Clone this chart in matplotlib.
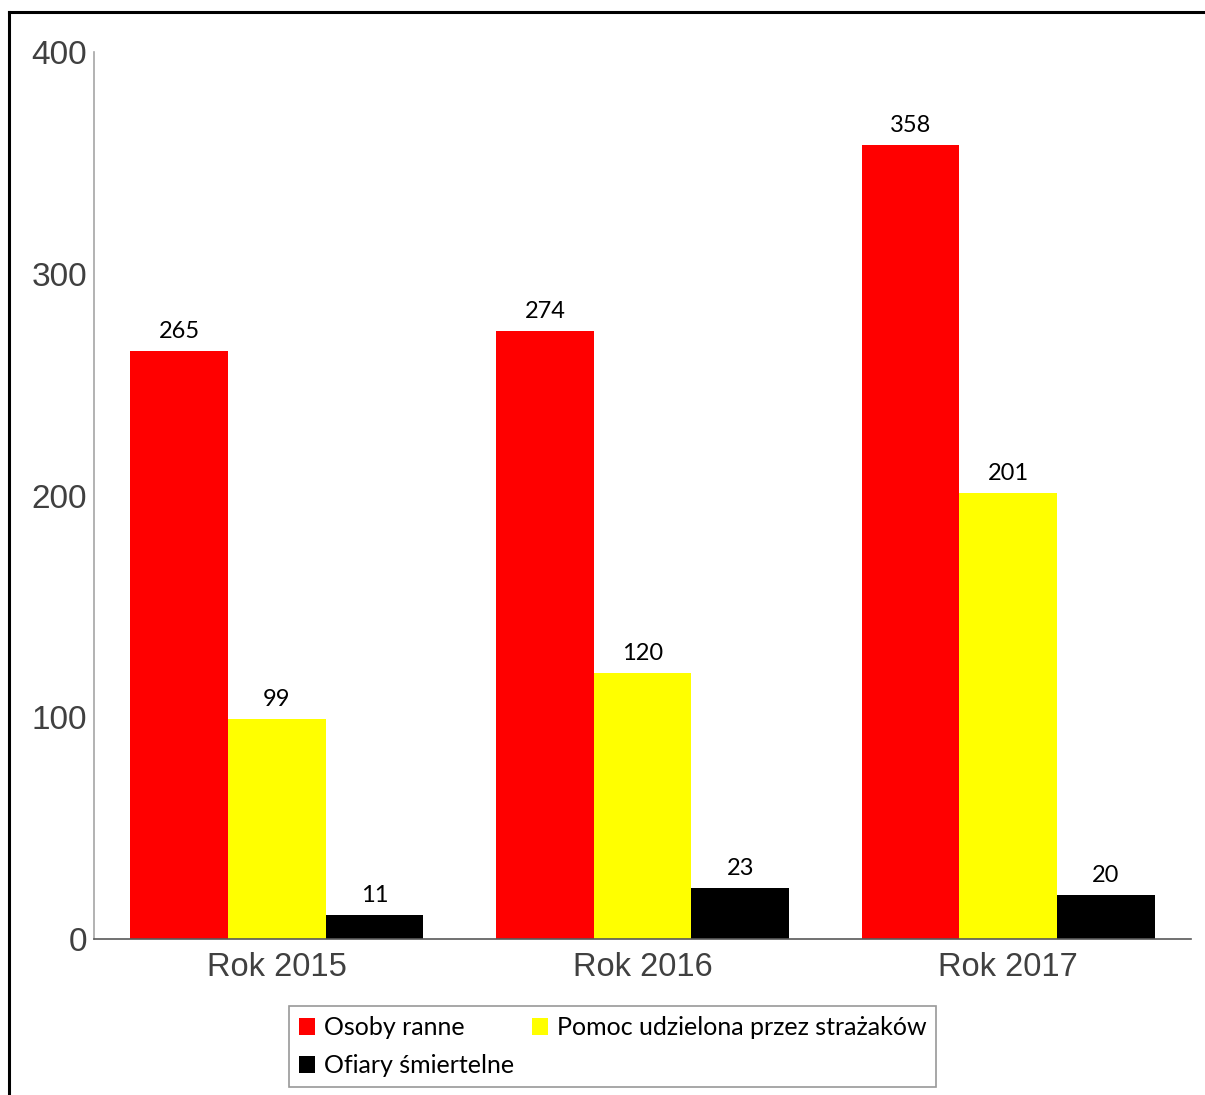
import matplotlib
import matplotlib.pyplot as plt
import numpy as np
from matplotlib.lines import Line2D

matplotlib.use('Agg')

# Data
years = ['Rok 2015', 'Rok 2016', 'Rok 2017']
ranni = [265, 274, 358]
pomoc = [99, 120, 201]
ofiary = [11, 23, 20]
series_names = ['Osoby ranne', 'Pomoc udzielona przez strażaków', 'Ofiary śmiertelne']
colors = ['#ff0000', '#ffff00', '#000000']

fig = plt.figure(figsize=(12.05, 10.95), dpi=100)
ax = fig.add_axes([94 / 1205, 1 - 939 / 1095, 1097 / 1205, 887 / 1095])

x = np.arange(len(years))
w = 0.267
bars = []
for i, (vals, name, col) in enumerate(zip([ranni, pomoc, ofiary], series_names, colors)):
    b = ax.bar(x + (i - 1) * w, vals, w, color=col, label=name)
    bars.append(b)
    for rect, v in zip(b, vals):
        ax.annotate(str(v), (rect.get_x() + rect.get_width() / 2, v),
                    xytext=(0, 6.5), textcoords='offset points',
                    ha='center', va='bottom', fontsize=17, family='Lato', color='#000000')

ax.set_xlim(-0.5, 2.5)
ax.set_ylim(0, 400)
ax.set_yticks([0, 100, 200, 300, 400])
ax.set_xticks(x)
ax.set_xticklabels(years)
ax.tick_params(length=0, labelcolor='#404040')
ax.tick_params(axis='y', labelsize=24, pad=5)
ax.tick_params(axis='x', labelsize=23.5, pad=9)
for lab in ax.get_xticklabels() + ax.get_yticklabels():
    lab.set_family('Liberation Sans')

ax.spines['top'].set_visible(False)
ax.spines['right'].set_visible(False)
ax.spines['left'].set_color('#a6a6a6')
ax.spines['bottom'].set_color('#595959')
ax.spines['left'].set_linewidth(1.2)
ax.spines['bottom'].set_linewidth(1.2)

# legend, row-major order
handles = [bars[0], bars[2], bars[1]]
labels = [series_names[0], series_names[2], series_names[1]]
leg = fig.legend(handles, labels, ncol=2, loc='upper left',
                 bbox_to_anchor=(289 / 1205, 1 - 1006 / 1095),
                 prop={'family': 'Lato', 'size': 18}, frameon=True, fancybox=False,
                 edgecolor='#7f7f7f', handlelength=0.65, handleheight=0.65,
                 handletextpad=0.35, columnspacing=0.7, labelspacing=0.6,
                 borderpad=0.4, borderaxespad=0)
leg.get_frame().set_linewidth(1.2)

# outer frame
fig.add_artist(Line2D([8.5 / 1205, 8.5 / 1205], [0, 1 - 12 / 1095],
                      transform=fig.transFigure, color='black', lw=2.2))
fig.add_artist(Line2D([8.5 / 1205, 1], [1 - 12 / 1095, 1 - 12 / 1095],
                      transform=fig.transFigure, color='black', lw=2.2))

fig.savefig('out.png', dpi=100)
